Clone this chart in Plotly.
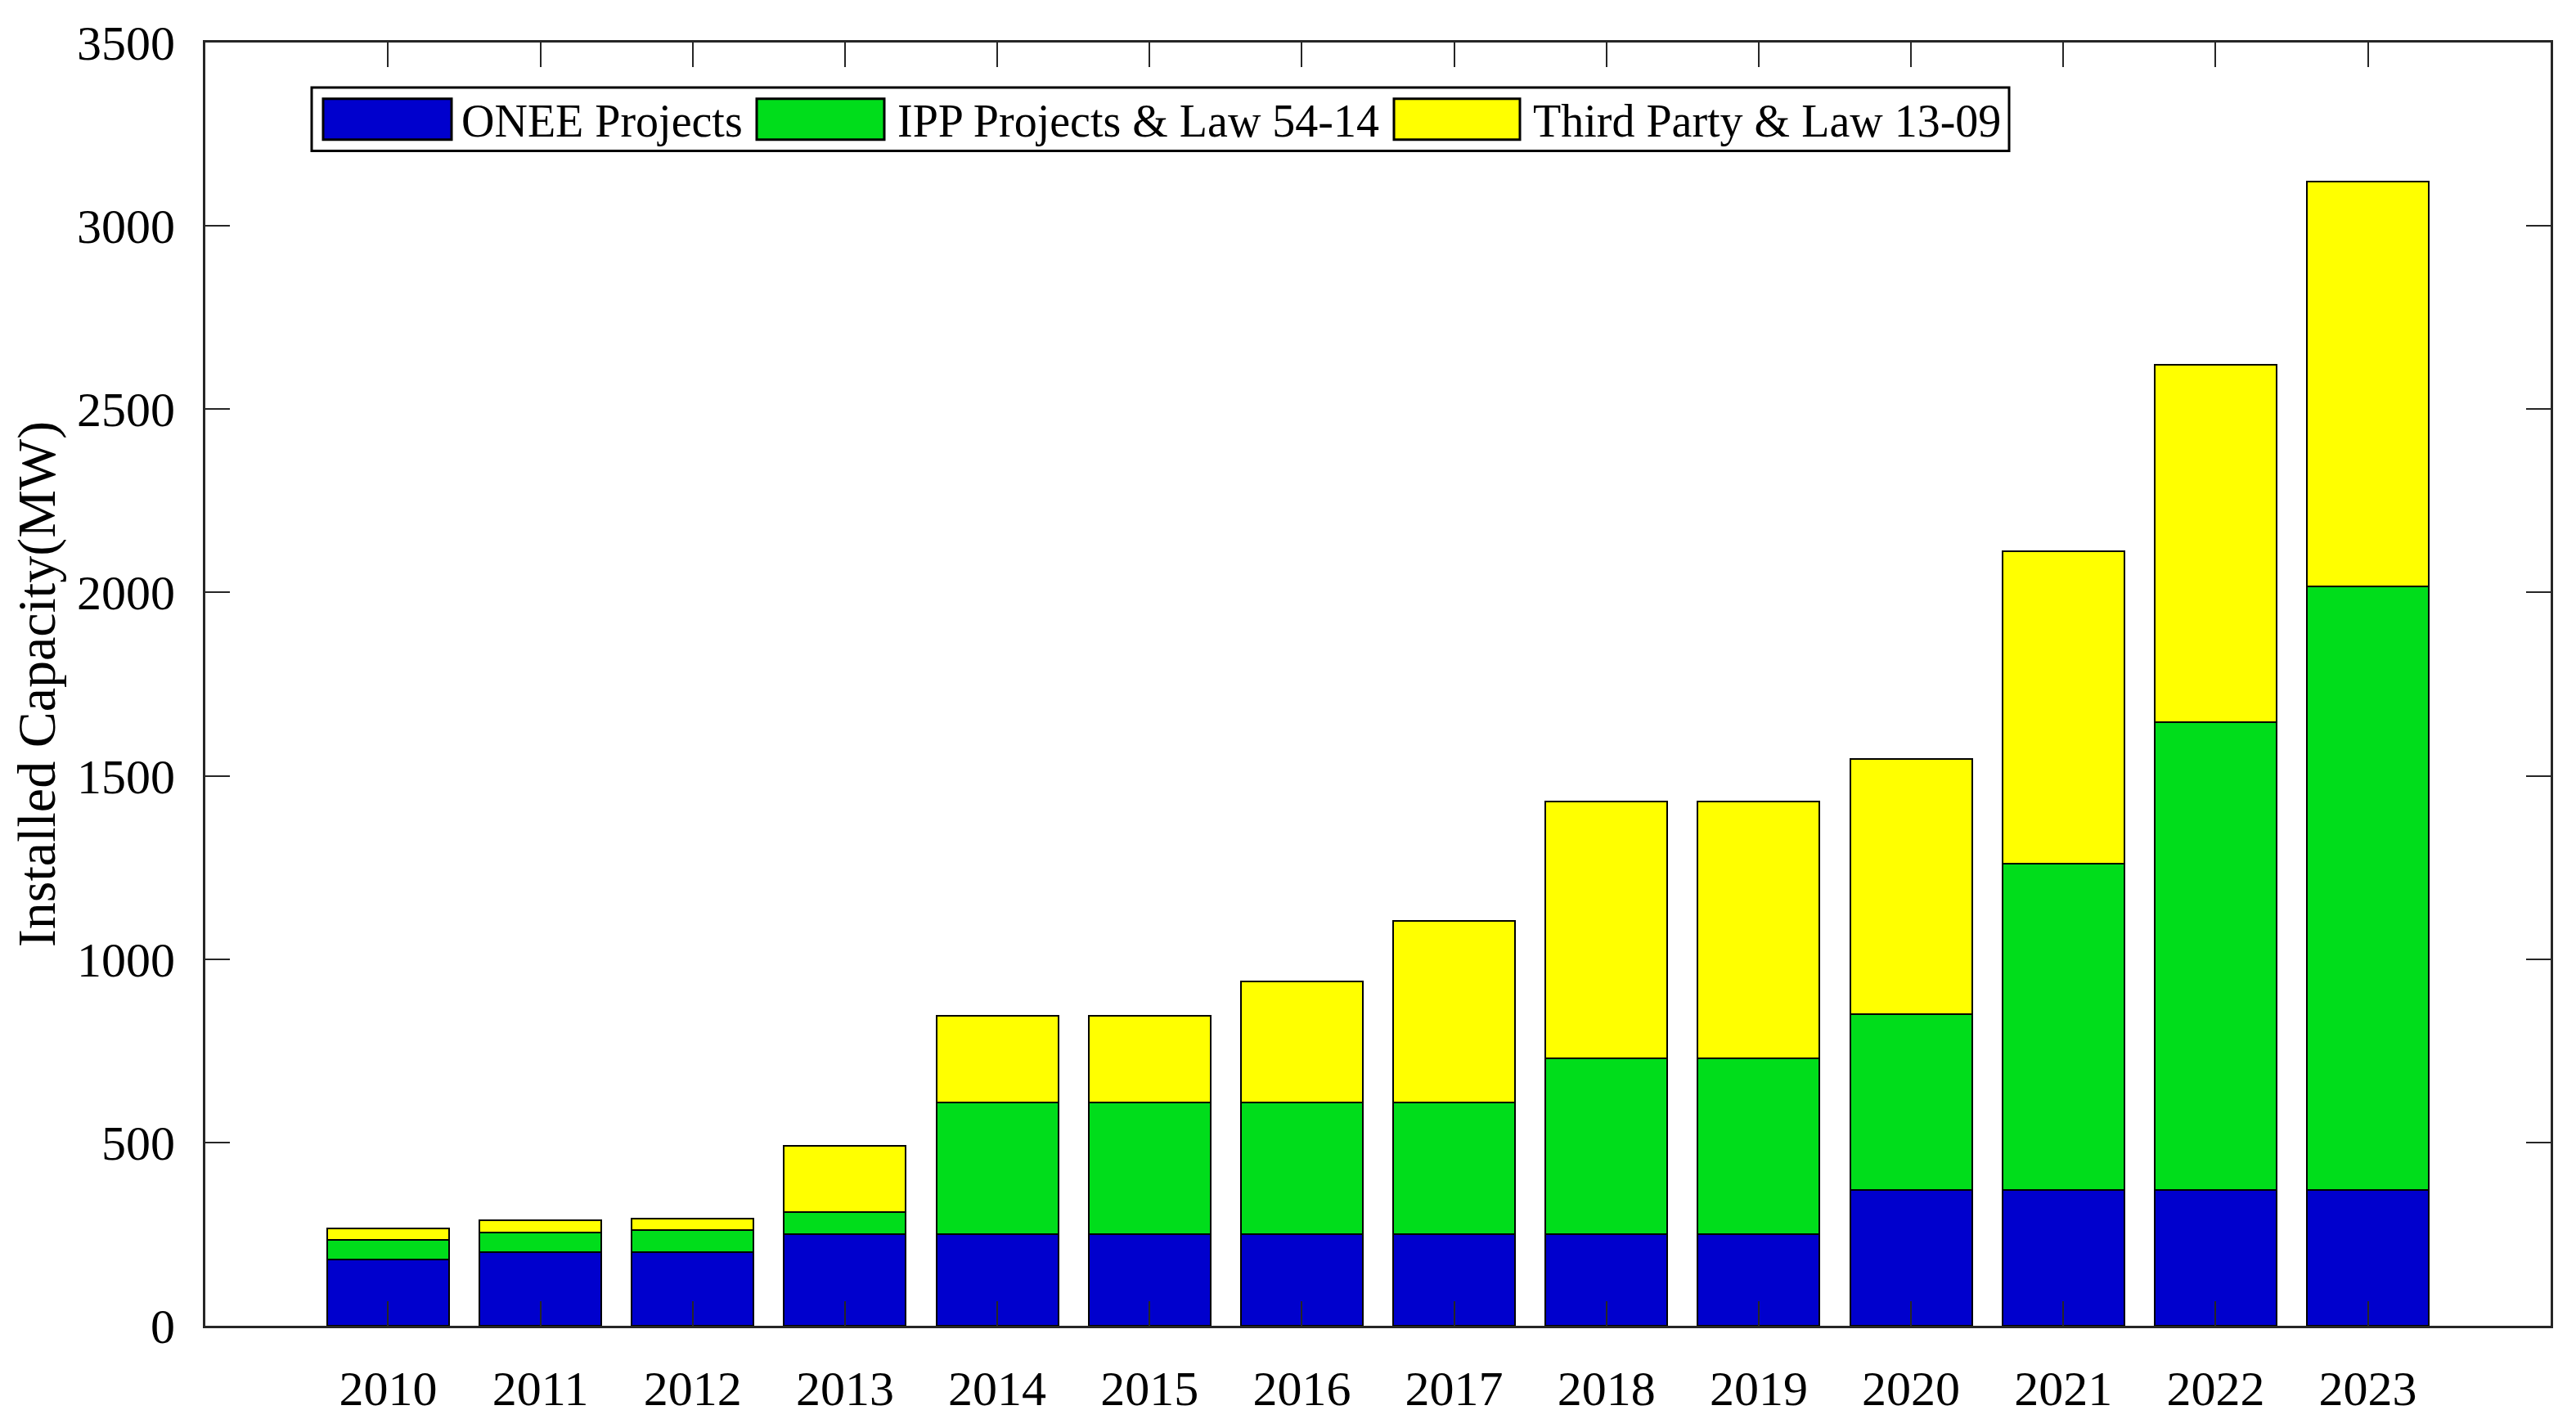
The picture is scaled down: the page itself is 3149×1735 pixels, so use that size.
import plotly.graph_objects as go

years = [2010, 2011, 2012, 2013, 2014, 2015, 2016, 2017, 2018, 2019, 2020, 2021, 2022, 2023]
year_labels = [str(y) for y in years]
onee = [180, 200, 200, 250, 250, 250, 250, 250, 250, 250, 370, 370, 370, 370]
ipp = [55, 55, 60, 60, 360, 360, 360, 360, 480, 480, 480, 890, 1277, 1646]
third = [31, 33, 33, 180, 235, 235, 330, 495, 700, 700, 696, 852, 974, 1105]
series_names = ["ONEE Projects", "IPP Projects & Law 54-14", "Third Party & Law 13-09"]
series_colors = ["#0000CD", "#00DD1B", "#FFFF00"]
y_ticks = [0, 500, 1000, 1500, 2000, 2500, 3000, 3500]

W, H = 3149, 1735
L, R, T, B = 243, 3110, 38, 1637
FONT = "Liberation Serif, Times New Roman, serif"
AX = "#262626"

fig = go.Figure()
for name, vals, col in zip(series_names, [onee, ipp, third], series_colors):
    fig.add_trace(go.Bar(x=years, y=vals, name=name, width=0.8,
                         marker=dict(color=col, line=dict(color="black", width=2.5)),
                         showlegend=False))

def px(x):
    return (x - L) / (R - L)

def py(y):
    return (B - y) / (B - T)

shapes = []
annotations = []
# legend box
shapes.append(dict(type="rect", xref="paper", yref="paper", x0=px(373), x1=px(2448),
                   y0=py(173), y1=py(94), line=dict(color="black", width=3), fillcolor="white", layer="above"))
sw_x = [(387, 544), (917, 1073), (1696, 1850)]
tx = [554, 1087, 1864]
for (a, b), t, name, col in zip(sw_x, tx, series_names, series_colors):
    shapes.append(dict(type="rect", xref="paper", yref="paper", x0=px(a), x1=px(b),
                       y0=py(159), y1=py(108), line=dict(color="black", width=3), fillcolor=col, layer="above"))
    annotations.append(dict(xref="paper", yref="paper", x=px(t), y=py(136), text=name,
                            showarrow=False, xanchor="left", yanchor="middle",
                            font=dict(family=FONT, size=56, color="black")))

fig.update_layout(
    width=W, height=H,
    margin=dict(l=L, r=W - R, t=T, b=H - B, pad=0),
    paper_bgcolor="white", plot_bgcolor="white",
    barmode="stack", bargap=0,
    font=dict(family=FONT, size=60, color="black"),
    shapes=shapes, annotations=annotations,
    showlegend=False,
)
fig.update_xaxes(range=[2008.8, 2024.2], tickvals=years, ticktext=year_labels,
                 ticks="inside", ticklen=30, tickwidth=2, tickcolor=AX,
                 showline=True, linecolor=AX, linewidth=3, mirror="ticks",
                 showgrid=False, zeroline=False, ticklabelstandoff=22,
                 tickfont=dict(family=FONT, size=60, color="black"))
fig.update_yaxes(range=[0, 3500], tickvals=y_ticks,
                 ticks="inside", ticklen=30, tickwidth=2, tickcolor=AX,
                 showline=True, linecolor=AX, linewidth=3, mirror="ticks",
                 showgrid=False, zeroline=False, ticklabelstandoff=22,
                 tickfont=dict(family=FONT, size=60, color="black"),
                 title=dict(text="Installed Capacity(MW)", standoff=20,
                            font=dict(family=FONT, size=66, color="black")))

fig.write_html("out.html")
